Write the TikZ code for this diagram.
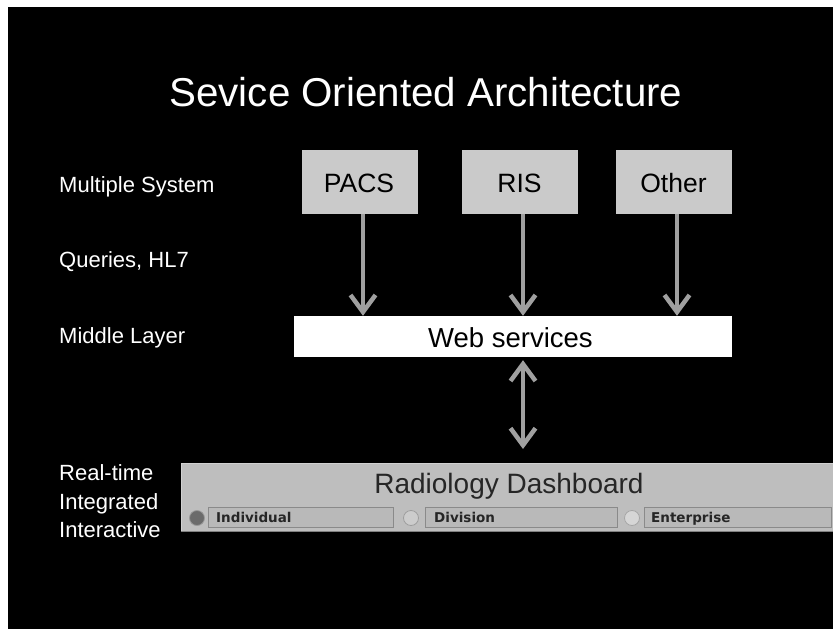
\documentclass[tikz,border=0pt]{standalone}
\usepackage{fontspec}
\setmainfont{Liberation Sans}
\newfontfamily\fieldfont{DejaVu Sans}
\usetikzlibrary{arrows.meta}
\definecolor{boxgray}{HTML}{CACACA}
\definecolor{arrowgray}{HTML}{A0A0A0}
\definecolor{dashgray}{HTML}{BEBEBE}
\definecolor{fieldgray}{HTML}{B9B9B9}
\definecolor{edgegray}{HTML}{8A8A8A}
\tikzset{
  x=1pt, y=-1pt,
  sidelabel/.style={anchor=base west, text=white, inner sep=0pt, font=\fontsize{22}{28.5}\selectfont, align=left},
  sysbox/.style={fill=boxgray, draw=none, minimum width=116pt, minimum height=64pt, inner sep=0pt},
  boxtext/.style={anchor=base, inner sep=0pt, font=\fontsize{26.5}{30}\selectfont},
  flow/.style={draw=arrowgray, line width=4.5pt, -{Straight Barb[length=17pt,width=25pt]}},
  bothflow/.style={draw=arrowgray, line width=4.5pt, {Straight Barb[length=17pt,width=25pt]}-{Straight Barb[length=17pt,width=25pt]}},
  field/.style={fill=fieldgray, draw=edgegray, line width=1pt, minimum height=20pt, inner sep=0pt, anchor=west},
  fieldtext/.style={anchor=base west, inner sep=0pt, text=black!85, font=\fieldfont\bfseries\fontsize{13.5}{15}\selectfont},
  radio/.style={circle, minimum size=15pt, inner sep=0pt, line width=0.8pt}
}
\begin{document}
\begin{tikzpicture}
  \useasboundingbox (0,0) rectangle (833,629);
  % slide background, running past the page edge on the right and bottom
  \fill[white] (-5,-5) rectangle (845,645);
  \fill[black] (8,7) rectangle (845,645);

  % title
  \node[anchor=base, text=white, font=\fontsize{40.3}{48}\selectfont, inner sep=0pt] (title) at (426,106) {Sevice Oriented Architecture};

  % layer labels
  \node[sidelabel] (lsys) at (59,192) {Multiple System};
  \node[sidelabel] (lqry) at (59,267) {Queries, HL7};
  \node[sidelabel] (lmid) at (59,343) {Middle Layer};
  \node[sidelabel, anchor=north west] (lrt) at (59,464.5) {Real-time\\Integrated\\Interactive};

  % source systems
  \node[sysbox] (pacs)  at (360,182) {};
  \node[sysbox] (ris)   at (519.5,182) {};
  \node[sysbox] (other) at (673.5,182) {};
  \node[boxtext] (pacst)  at (359,192) {PACS};
  \node[boxtext] (rist)   at (519.5,192) {RIS};
  \node[boxtext] (othert) at (673.5,192) {Other};

  % middle layer
  \node[fill=white, minimum width=438pt, minimum height=41pt, inner sep=0pt] (web) at (513,336.5) {};
  \node[anchor=base, inner sep=0pt, font=\fontsize{27.5}{30}\selectfont] (webt) at (510.5,347) {Web services};

  % dashboard panel (cut off by the right page edge)
  \node[fill=dashgray, draw=none, minimum width=680pt, minimum height=68pt, inner sep=0pt, anchor=north west] (dash) at (181,463) {};
  \draw[white!82!black, line width=1pt] (dash.north west) -- (dash.north east);
  \draw[white!82!black, line width=1pt] (dash.north west) -- (dash.south west);
  \draw[black!50, line width=1.2pt] (dash.south west) -- (dash.south east);
  \node[anchor=base, font=\fontsize{28}{32}\selectfont, text=black!85, inner sep=0pt] (dtitle) at (509,493) {Radiology Dashboard};

  % view selectors
  \node[radio, fill=black!58, draw=black!40] (r1) at (197,518) {};
  \node[field, minimum width=185pt] (f1) at (208,517) {};
  \node[fieldtext] (t1) at (216,522) {Individual};

  \node[radio, fill=black!20, draw=black!38] (r2) at (411,518) {};
  \node[field, minimum width=192pt] (f2) at (425,517) {};
  \node[fieldtext] (t2) at (434,522) {Division};

  \node[radio, fill=black!16, draw=black!35] (r3) at (632,518) {};
  \node[field, minimum width=187pt] (f3) at (644,517) {};
  \node[fieldtext] (t3) at (651,522) {Enterprise};

  % connectors
  \draw[flow] (pacs.south -| 363,0) -- (web.north -| 363,0);
  \draw[flow] (ris.south -| 523,0) -- (web.north -| 523,0);
  \draw[flow] (other.south -| 677,0) -- (web.north -| 677,0);
  \draw[bothflow] ([yshift=-3pt]web.south -| 523,0) -- ([yshift=14pt]dash.north -| 523,0);
\end{tikzpicture}
\end{document}
